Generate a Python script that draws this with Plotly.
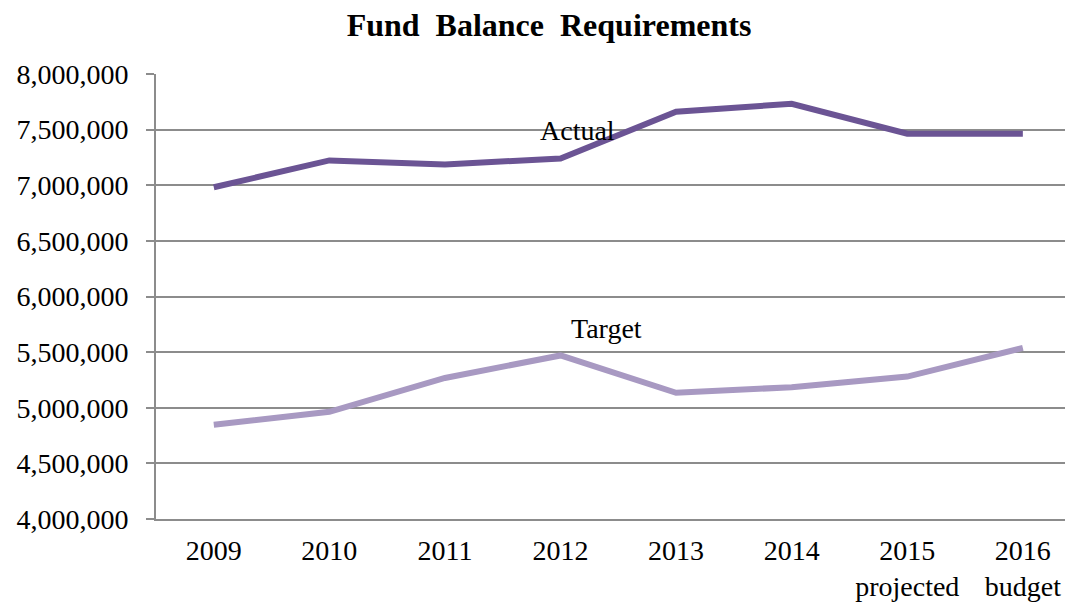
import plotly.graph_objects as go

years = ["2009", "2010", "2011", "2012", "2013", "2014", "2015", "2016"]
tick_text = ["2009", "2010", "2011", "2012", "2013", "2014", "2015<br>projected", "2016<br>budget"]
actual = [6982000, 7223000, 7187000, 7241000, 7661000, 7732000, 7464000, 7464000]
target = [4848000, 4964000, 5268000, 5470000, 5134000, 5185000, 5280000, 5538000]
y_ticks = [4000000, 4500000, 5000000, 5500000, 6000000, 6500000, 7000000, 7500000, 8000000]

FONT = "Liberation Serif"
xs = list(range(len(years)))

fig = go.Figure()
fig.add_trace(go.Scatter(x=xs, y=actual, mode="lines", name="Actual",
                         line=dict(color="#6b5494", width=6)))
fig.add_trace(go.Scatter(x=xs, y=target, mode="lines", name="Target",
                         line=dict(color="#a899c2", width=6)))

fig.add_annotation(x=3.15, y=7490000, text="Actual", showarrow=False,
                   font=dict(family=FONT, size=28, color="black"))
fig.add_annotation(x=3.4, y=5714000, text="Target", showarrow=False,
                   font=dict(family=FONT, size=28, color="black"))

fig.update_layout(
    width=1065, height=594,
    margin=dict(l=148, r=0, t=66, b=67),
    paper_bgcolor="white", plot_bgcolor="white",
    showlegend=False,
    font=dict(family=FONT, size=28, color="black"),
    title=dict(text="<b>Fund  Balance  Requirements</b>", x=0.508, xanchor="center",
               y=0.972, yanchor="middle",
               font=dict(family=FONT, size=32, color="black")),
)
fig.update_xaxes(
    tickmode="array", tickvals=xs, ticktext=tick_text,
    range=[-0.5, 7.434], showgrid=False, zeroline=False,
    showline=True, linecolor="#8c8c8c", linewidth=2,
    ticks="", ticklabelstandoff=5,
    tickfont=dict(family=FONT, size=28, color="black"),
)
fig.update_yaxes(
    range=[4000000, 8000000], tickvals=y_ticks,
    tickformat=",d", showgrid=True, gridcolor="#8c8c8c", gridwidth=2,
    zeroline=False, showline=True, linecolor="#8c8c8c", linewidth=2,
    ticks="outside", ticklen=8, tickcolor="#8c8c8c", tickwidth=2,
    ticklabelstandoff=12,
    tickfont=dict(family=FONT, size=28, color="black"),
)

fig.write_html("out.html")
